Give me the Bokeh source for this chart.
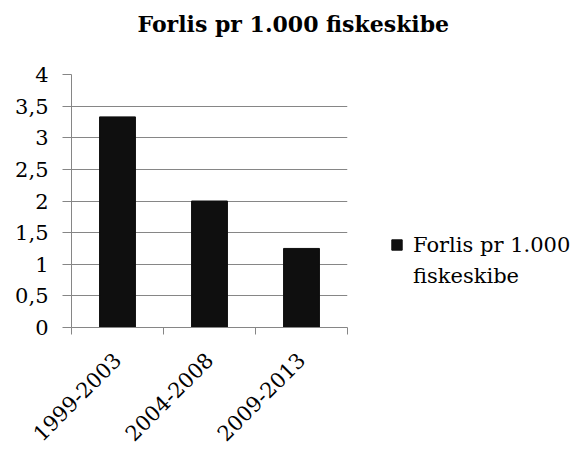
import math
from bokeh.plotting import figure
from bokeh.models import (Range1d, FixedTicker, Legend, LegendItem, ColumnDataSource,
                          LinearAxis)
from bokeh.embed import file_html
from bokeh.resources import INLINE

title_text = "Forlis pr 1.000 fiskeskibe"
series_name_lines = ["Forlis pr 1.000", "fiskeskibe"]
periods = ["1999-2003", "2004-2008", "2009-2013"]
values = [3.33, 2.0, 1.25]
y_ticks = [0, 0.5, 1, 1.5, 2, 2.5, 3, 3.5, 4]
y_tick_labels = ["0", "0,5", "1", "1,5", "2", "2,5", "3", "3,5", "4"]

FONT = "DejaVu Serif"
GRAY = "#868686"
BAR = "#0f0f0f"

x_pos = [i + 0.5 for i in range(len(periods))]
src = ColumnDataSource(dict(x=x_pos, top=values, period=periods))

p = figure(frame_width=276, frame_height=253,
           x_range=Range1d(0, len(periods)), y_range=Range1d(0, 4),
           output_backend="svg", toolbar_location=None,
           min_border_left=71, min_border_right=224,
           min_border_top=74, min_border_bottom=114,
           title=title_text)
p.outline_line_color = None
p.background_fill_color = "white"
p.border_fill_color = "white"

p.title.text_font = FONT
p.title.text_font_size = "22px"
p.title.text_font_style = "bold"
p.title.text_color = "black"
p.title.align = "left"
p.title.offset = 66
p.title.standoff = 0

r = p.vbar(x="x", top="top", width=0.39, source=src, fill_color=BAR, line_color=BAR)

xa = p.below[0]
xa.ticker = FixedTicker(ticks=x_pos, minor_ticks=list(range(len(periods) + 1)))
xa.major_label_overrides = {x: lbl for x, lbl in zip(x_pos, periods)}
xa.major_label_orientation = math.pi / 4
xa.major_tick_line_color = None
xa.major_tick_out = 0
xa.major_tick_in = 0
xa.minor_tick_line_color = GRAY
xa.minor_tick_out = 7
xa.minor_tick_in = 0
xa.axis_line_color = GRAY
xa.major_label_text_font = FONT
xa.major_label_text_font_size = "21px"
xa.major_label_text_color = "black"
xa.major_label_standoff = 22

ya = p.left[0]
ya.ticker = FixedTicker(ticks=y_ticks)
ya.major_label_overrides = {t: lbl for t, lbl in zip(y_ticks, y_tick_labels)}
ya.major_tick_line_color = GRAY
ya.major_tick_out = 9
ya.major_tick_in = 0
ya.minor_tick_line_color = None
ya.axis_line_color = GRAY
ya.major_label_text_font = FONT
ya.major_label_text_font_size = "21px"
ya.major_label_text_color = "black"
ya.major_label_standoff = 14

# invisible spacer between title and plot area (white tick on white border)
spacer = LinearAxis(ticker=FixedTicker(ticks=[x_pos[-1]]))
spacer.major_label_overrides = {x_pos[-1]: " "}
spacer.major_tick_out = 34
spacer.major_tick_in = 0
spacer.minor_tick_out = 0
spacer.minor_tick_in = 0
spacer.major_tick_line_color = "white"
spacer.minor_tick_line_color = None
spacer.axis_line_color = None
spacer.major_label_standoff = 0
spacer.major_label_text_font_size = "1px"
p.add_layout(spacer, "above")

p.xgrid.grid_line_color = None
p.ygrid.ticker = FixedTicker(ticks=y_ticks)
p.ygrid.grid_line_color = GRAY

legend = Legend(items=[LegendItem(label=series_name_lines[0], renderers=[r]),
                       LegendItem(label=series_name_lines[1], renderers=[])],
                location=(43, 36))
legend.glyph_width = 13
legend.glyph_height = 13
legend.label_height = 31
legend.label_standoff = 10
legend.padding = 0
legend.margin = 0
legend.spacing = 0
legend.border_line_color = None
legend.background_fill_alpha = 0
legend.label_text_font = FONT
legend.label_text_font_size = "21px"
legend.label_text_color = "black"
p.add_layout(legend, "right")

open("out.html", "w").write(file_html(p, INLINE))
